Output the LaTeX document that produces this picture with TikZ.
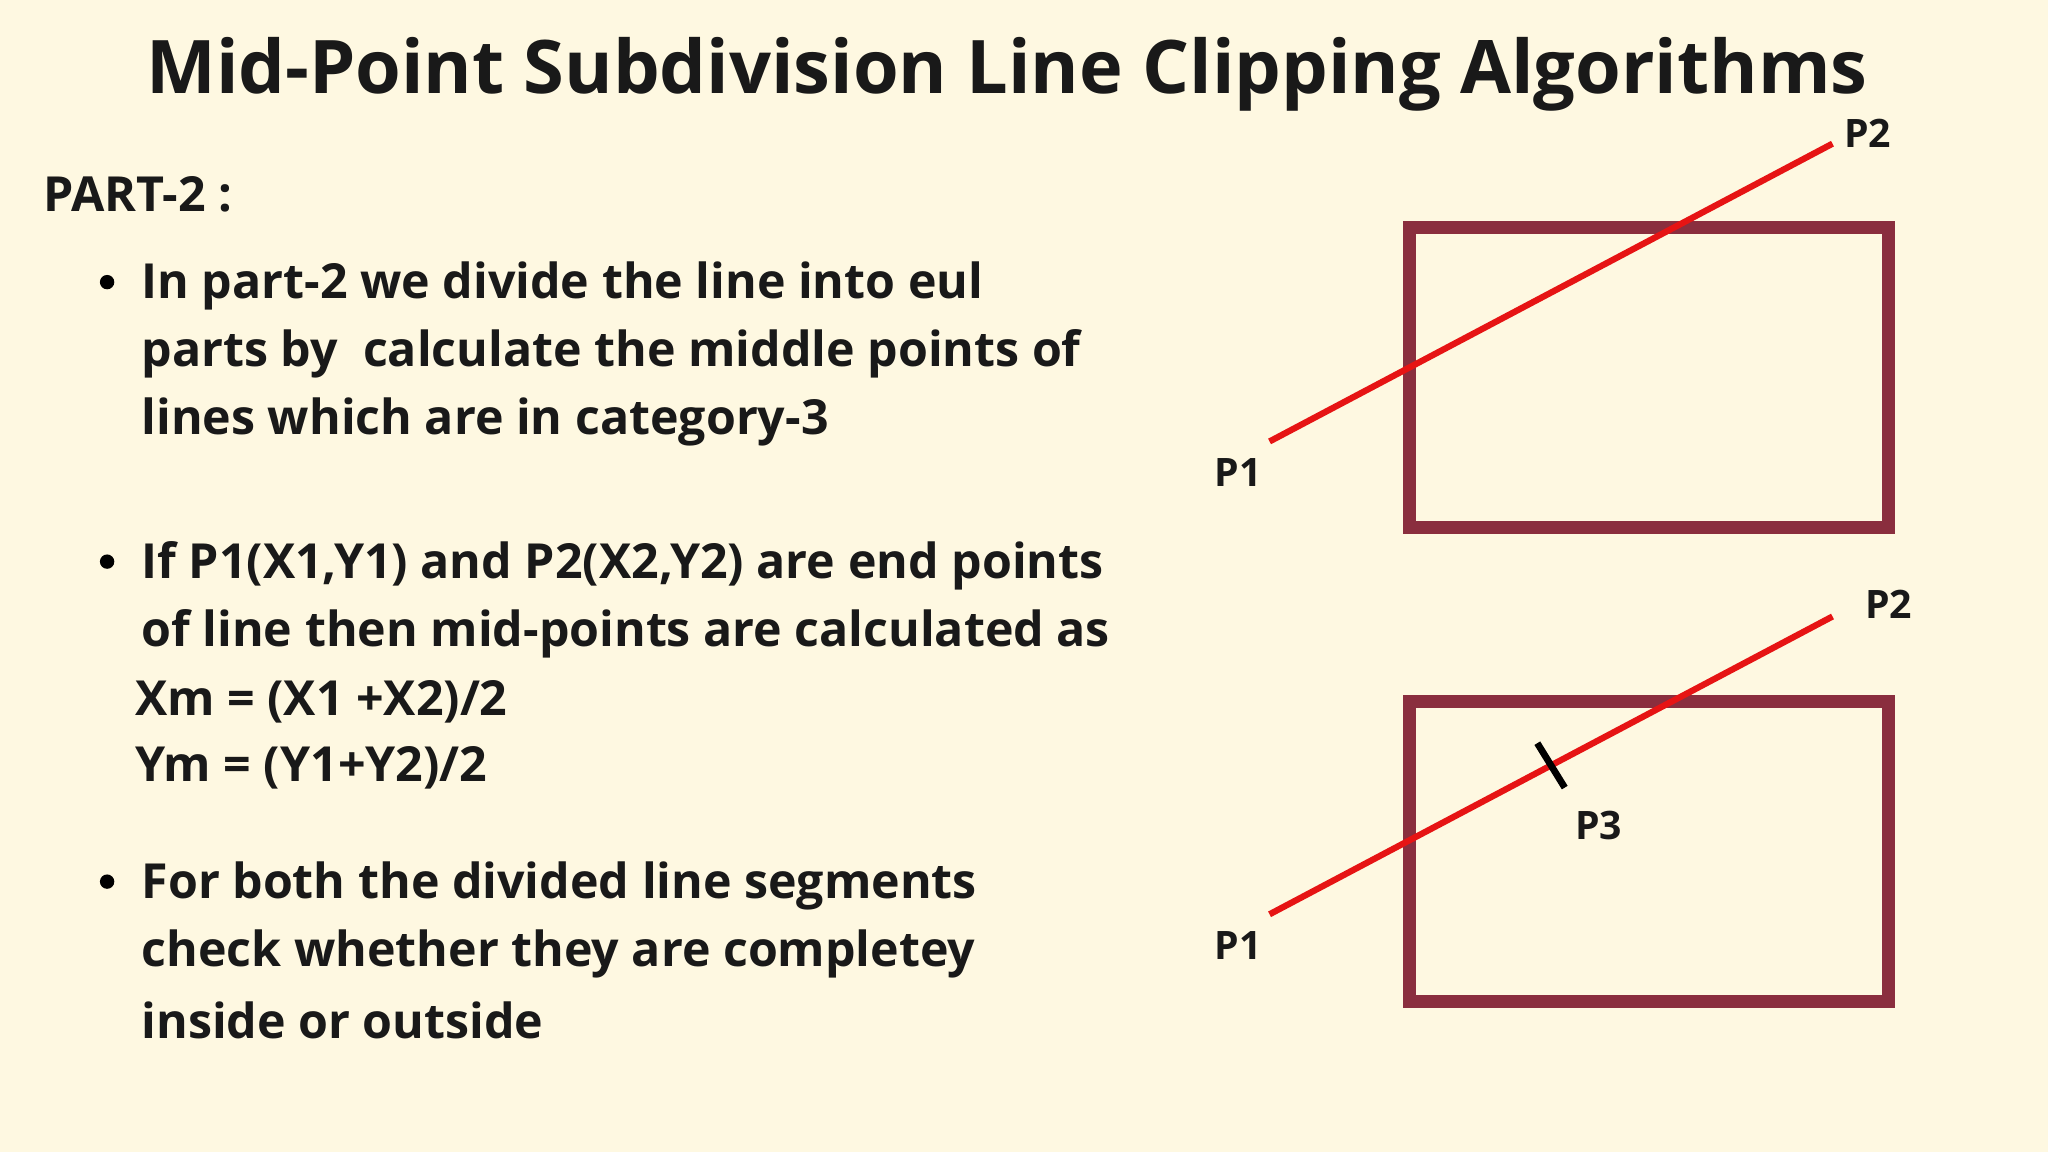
\documentclass[tikz,border=0pt]{standalone}
\usepackage{fontspec}
\setmainfont{Open Sans}
\definecolor{bg}{HTML}{FEF8E1}
\definecolor{maroon}{HTML}{8A2E3E}
\definecolor{redl}{HTML}{E61414}
\begin{document}
\begin{tikzpicture}[x=0.5pt,y=-0.5pt,
  txt/.style={anchor=west,inner sep=0pt,font=\bfseries\fontsize{18.5}{21}\selectfont,text=black!90},
  lbl/.style={inner sep=0pt,font=\bfseries\fontsize{15}{17}\selectfont,text=black!90},
  win/.style={draw=maroon,line width=5pt},
  seg/.style={draw=redl,line width=2.4pt}]
\fill[bg] (0,0) rectangle (1568,882);
\useasboundingbox (0,0) rectangle (1568,882);
\node[inner sep=0pt,font=\bfseries\fontsize{28.3}{31}\selectfont,text=black!90] (title) at (771,57) {Mid-Point Subdivision Line Clipping Algorithms};
\node[txt] (part) at (33,149) {PART-2 :};
\foreach \y/\n in {216/b1,430/b2,675/b3}{\fill (82,\y) circle (5.5) coordinate (\n);}
\node[txt] (t1) at (108,219) {In part-2 we divide the line into eul};
\node[txt] (t2) at (108,271) {parts by \ calculate the middle points of};
\node[txt] (t3) at (108,323) {lines which are in category-3};
\node[txt] (t4) at (108,433) {If P1(X1,Y1) and P2(X2,Y2) are end points};
\node[txt] (t5) at (108,485) {of line then mid-points are calculated as};
\node[txt] (t6) at (103,537) {Xm = (X1 +X2)/2};
\node[txt] (t7) at (103,588) {Ym = (Y1+Y2)/2};
\node[txt] (t8) at (108,678) {For both the divided line segments};
\node[txt] (t9) at (108,730) {check whether they are completey};
\node[txt] (t10) at (108,781) {inside or outside};
% top diagram
\draw[win] (1079,174) rectangle (1446,404);
\coordinate (a1) at (972,338); \coordinate (a2) at (1403,110);
\draw[seg] (a1) -- (a2);
\node[lbl] (la1) at (948,362) {P1};
\node[lbl] (la2) at (1430,102) {P2};
% bottom diagram
\draw[win] (1079,537) rectangle (1446,767);
\coordinate (c1) at (972,700); \coordinate (c2) at (1403,472);
\draw[seg] (c1) -- (c2);
\coordinate (m1) at (1177,569); \coordinate (m2) at (1198,603);
\draw[line width=2.6pt] (m1) -- (m2);
\node[lbl] (lc1) at (948,724) {P1};
\node[lbl] (lc2) at (1446,463) {P2};
\node[lbl] (lc3) at (1224,632) {P3};
\end{tikzpicture}
\end{document}
